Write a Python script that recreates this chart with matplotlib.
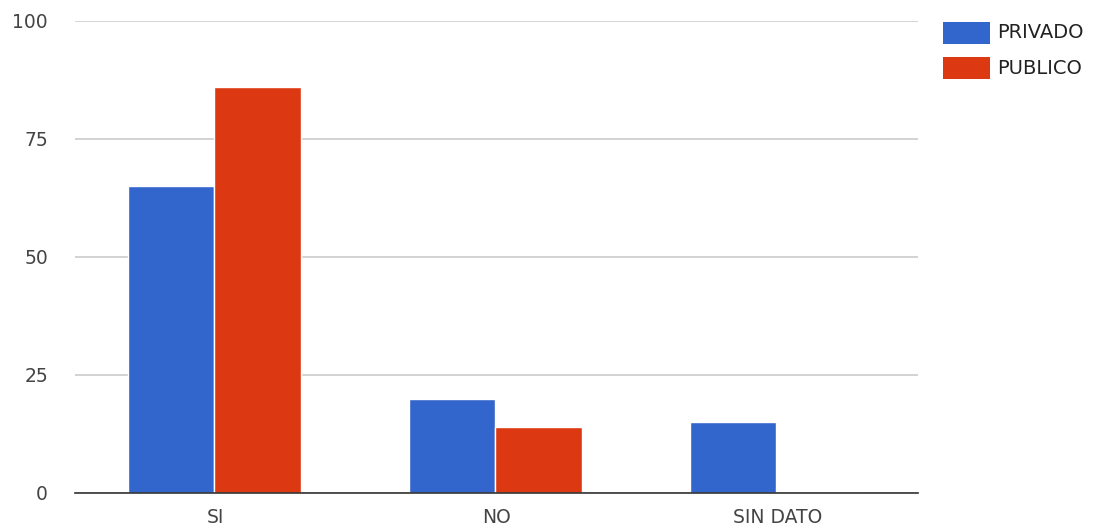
import matplotlib
matplotlib.use("Agg")
import matplotlib.pyplot as plt
import numpy as np
from matplotlib.patches import Rectangle

categories = ["SI", "NO", "SIN DATO"]
privado = [65, 20, 15]
publico = [86, 14, 0]
series_names = ["PRIVADO", "PUBLICO"]
colors = ["#3366CC", "#DC3912"]
yticks = [0, 25, 50, 75, 100]

plt.rcParams["font.family"] = ["DejaVu Sans"]

W, H = 1106, 530
fig = plt.figure(figsize=(W / 100, H / 100), dpi=100)
ax = fig.add_axes([75 / W, 1 - 493 / H, (918 - 75) / W, (493 - 21) / H])

x = np.arange(len(categories))
bw = 0.308
for i, (vals, col, name) in enumerate(zip([privado, publico], colors, series_names)):
    ax.bar(x - 0.004 + (i - 0.5) * bw, vals, width=bw, color=col, edgecolor="white",
           linewidth=1.0, label=name, zorder=3)

ax.set_xlim(-0.5, len(categories) - 0.5)
ax.set_ylim(0, 100)
ax.set_yticks(yticks)
ax.set_yticklabels([str(v) for v in yticks])
ax.set_xticks(x)
ax.set_xticklabels(categories)
ax.yaxis.grid(True, color="#cccccc", linewidth=1.2, zorder=0)
ax.set_axisbelow(True)
for s in ["top", "right", "left"]:
    ax.spines[s].set_visible(False)
ax.spines["bottom"].set_color("#333333")
ax.spines["bottom"].set_linewidth(1.2)
ax.spines["bottom"].set_zorder(4)
ax.tick_params(axis="both", length=0, labelsize=13.5, colors="#444444")
ax.tick_params(axis="y", pad=19.5)
ax.tick_params(axis="x", pad=11)

# legend drawn in figure pixels at the right
for i, (name, col) in enumerate(zip(series_names, colors)):
    y0 = 22 + i * 35
    fig.patches.append(Rectangle((943 / W, 1 - (y0 + 22) / H), 47 / W, 22 / H,
                                 transform=fig.transFigure, facecolor=col,
                                 edgecolor="none"))
    fig.text(997 / W, 1 - (y0 + 11) / H, name, fontsize=14, color="#222222",
             va="center", ha="left")

fig.savefig("out.png", dpi=100)
